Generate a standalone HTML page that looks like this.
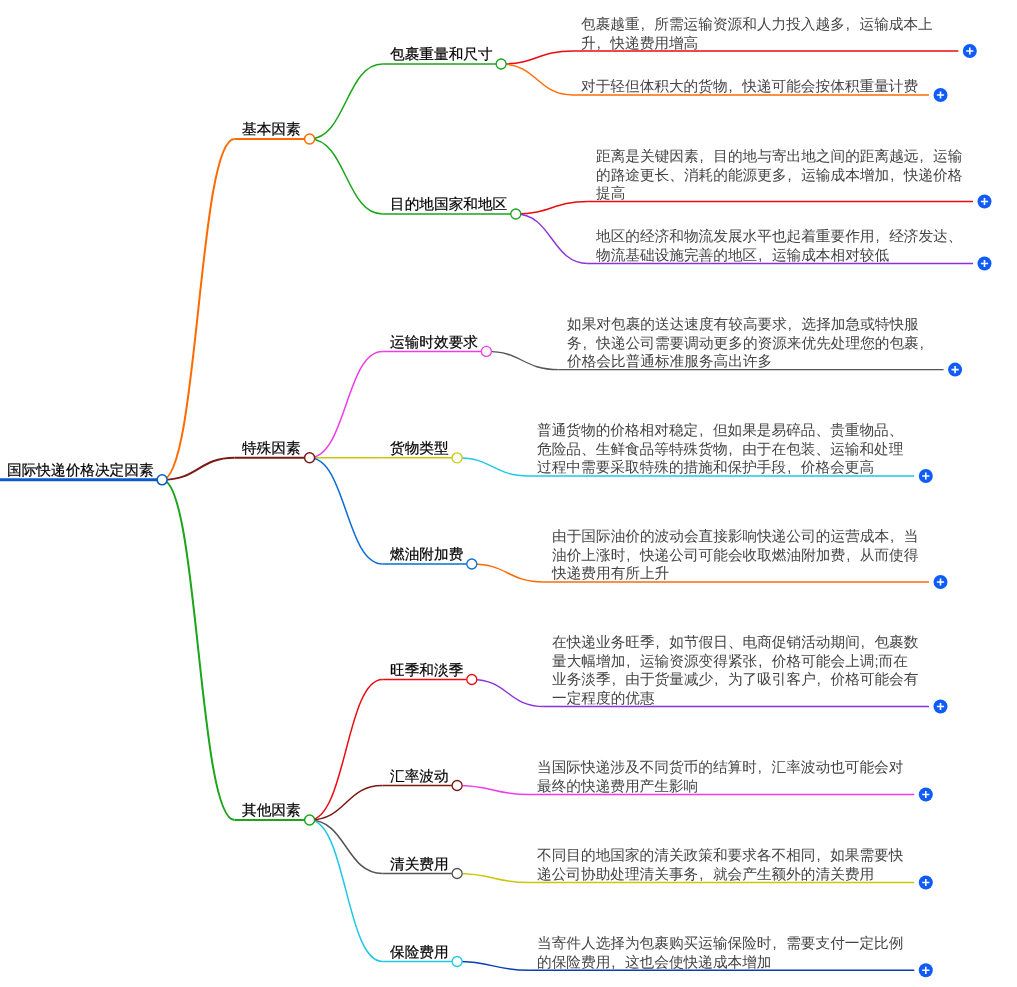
<!DOCTYPE html>
<html><head><meta charset="utf-8"><style>
html,body{margin:0;padding:0;background:#fff;width:1017px;height:987px;overflow:hidden}
body{position:relative;font-family:"Liberation Sans",sans-serif;text-rendering:geometricPrecision}
svg{position:absolute;left:0;top:0}
.lb,.ds{position:absolute;white-space:nowrap;will-change:transform;font-size:14.67px;line-height:18.5px}
.lb{color:#000;-webkit-text-stroke:0.2px #000}
.ds{color:#444}
.ds i{font-style:normal;display:inline-block;width:14.67px;text-indent:1px}
</style></head><body>
<svg width="1017" height="987" viewBox="0 0 1017 987">
<path d="M0 479.8H162.1" stroke="#0a5bc8" stroke-width="3" fill="none"/>
<path d="M162.1 479.8C198.3 479.8 198.3 139.0 234.5 139.0" stroke="#ff6a00" stroke-width="2" fill="none"/>
<path d="M234.5 139H309.6" stroke="#ff6a00" stroke-width="2" fill="none"/>
<path d="M309.6 139.0C346.0 139.0 346.0 64.0 382.5 64.0" stroke="#1aa51a" stroke-width="1.5" fill="none"/>
<path d="M382.5 64H501.1" stroke="#1aa51a" stroke-width="1.5" fill="none"/>
<path d="M501.1 64.0C537.1 64.0 537.1 51.0 573.1 51.0" stroke="#eb0a0f" stroke-width="1.4" fill="none"/>
<path d="M573.1 51H958.3" stroke="#eb0a0f" stroke-width="1.4" fill="none"/>
<g><circle cx="969.8" cy="51" r="7" fill="#105cfa"/><path d="M966.2 51H973.4M969.8 47.4V54.6" stroke="#fff" stroke-width="1.6"/></g>
<path d="M501.1 64.0C537.1 64.0 537.1 95.0 573.1 95.0" stroke="#ff6a00" stroke-width="1.4" fill="none"/>
<path d="M573.1 95H929.0" stroke="#ff6a00" stroke-width="1.4" fill="none"/>
<g><circle cx="940.5" cy="95" r="7" fill="#105cfa"/><path d="M936.9 95H944.1M940.5 91.4V98.6" stroke="#fff" stroke-width="1.6"/></g>
<path d="M309.6 139.0C346.0 139.0 346.0 214.0 382.5 214.0" stroke="#1aa51a" stroke-width="1.5" fill="none"/>
<path d="M382.5 214H515.8" stroke="#1aa51a" stroke-width="1.5" fill="none"/>
<path d="M515.8 214.0C551.8 214.0 551.8 201.5 587.8 201.5" stroke="#eb0a0f" stroke-width="1.4" fill="none"/>
<path d="M587.8 201.5H973.0" stroke="#eb0a0f" stroke-width="1.4" fill="none"/>
<g><circle cx="984.5" cy="201.5" r="7" fill="#105cfa"/><path d="M980.9 201.5H988.1M984.5 197.9V205.1" stroke="#fff" stroke-width="1.6"/></g>
<path d="M515.8 214.0C551.8 214.0 551.8 263.5 587.8 263.5" stroke="#8c32dc" stroke-width="1.4" fill="none"/>
<path d="M587.8 263.5H973.0" stroke="#8c32dc" stroke-width="1.4" fill="none"/>
<g><circle cx="984.5" cy="263.5" r="7" fill="#105cfa"/><path d="M980.9 263.5H988.1M984.5 259.9V267.1" stroke="#fff" stroke-width="1.6"/></g>
<path d="M162.1 479.8C198.3 479.8 198.3 457.8 234.5 457.8" stroke="#7a1a12" stroke-width="2" fill="none"/>
<path d="M234.5 457.8H309.6" stroke="#7a1a12" stroke-width="2" fill="none"/>
<path d="M309.6 457.8C346.0 457.8 346.0 351.4 382.5 351.4" stroke="#f03ce6" stroke-width="1.5" fill="none"/>
<path d="M382.5 351.4H486.4" stroke="#f03ce6" stroke-width="1.5" fill="none"/>
<path d="M486.4 351.4C522.4 351.4 522.4 369.6 558.4 369.6" stroke="#555555" stroke-width="1.4" fill="none"/>
<path d="M558.4 369.6H943.6" stroke="#555555" stroke-width="1.4" fill="none"/>
<g><circle cx="955.1" cy="369.6" r="7" fill="#105cfa"/><path d="M951.5 369.6H958.7M955.1 366.0V373.20000000000005" stroke="#fff" stroke-width="1.6"/></g>
<path d="M309.6 457.8C346.0 457.8 346.0 457.8 382.5 457.8" stroke="#c8c80a" stroke-width="1.5" fill="none"/>
<path d="M382.5 457.8H457.1" stroke="#c8c80a" stroke-width="1.5" fill="none"/>
<path d="M457.1 457.8C493.1 457.8 493.1 476.0 529.1 476.0" stroke="#1ec8e6" stroke-width="1.4" fill="none"/>
<path d="M529.1 476H914.3" stroke="#1ec8e6" stroke-width="1.4" fill="none"/>
<g><circle cx="925.8" cy="476" r="7" fill="#105cfa"/><path d="M922.2 476H929.4M925.8 472.4V479.6" stroke="#fff" stroke-width="1.6"/></g>
<path d="M309.6 457.8C346.0 457.8 346.0 564.0 382.5 564.0" stroke="#0a6ed6" stroke-width="1.5" fill="none"/>
<path d="M382.5 564H471.8" stroke="#0a6ed6" stroke-width="1.5" fill="none"/>
<path d="M471.8 564.0C507.8 564.0 507.8 582.0 543.8 582.0" stroke="#ff6a00" stroke-width="1.4" fill="none"/>
<path d="M543.8 582H929.0" stroke="#ff6a00" stroke-width="1.4" fill="none"/>
<g><circle cx="940.5" cy="582" r="7" fill="#105cfa"/><path d="M936.9 582H944.1M940.5 578.4V585.6" stroke="#fff" stroke-width="1.6"/></g>
<path d="M162.1 479.8C198.3 479.8 198.3 820.0 234.5 820.0" stroke="#1aa51a" stroke-width="2" fill="none"/>
<path d="M234.5 820H309.6" stroke="#1aa51a" stroke-width="2" fill="none"/>
<path d="M309.6 820.0C346.0 820.0 346.0 679.5 382.5 679.5" stroke="#eb0a0f" stroke-width="1.5" fill="none"/>
<path d="M382.5 679.5H471.8" stroke="#eb0a0f" stroke-width="1.5" fill="none"/>
<path d="M471.8 679.5C507.8 679.5 507.8 706.5 543.8 706.5" stroke="#8c32dc" stroke-width="1.4" fill="none"/>
<path d="M543.8 706.5H929.0" stroke="#8c32dc" stroke-width="1.4" fill="none"/>
<g><circle cx="940.5" cy="706.5" r="7" fill="#105cfa"/><path d="M936.9 706.5H944.1M940.5 702.9V710.1" stroke="#fff" stroke-width="1.6"/></g>
<path d="M309.6 820.0C346.0 820.0 346.0 785.5 382.5 785.5" stroke="#7a1a12" stroke-width="1.5" fill="none"/>
<path d="M382.5 785.5H457.1" stroke="#7a1a12" stroke-width="1.5" fill="none"/>
<path d="M457.1 785.5C493.1 785.5 493.1 794.5 529.1 794.5" stroke="#f03ce6" stroke-width="1.4" fill="none"/>
<path d="M529.1 794.5H914.3" stroke="#f03ce6" stroke-width="1.4" fill="none"/>
<g><circle cx="925.8" cy="794.5" r="7" fill="#105cfa"/><path d="M922.2 794.5H929.4M925.8 790.9V798.1" stroke="#fff" stroke-width="1.6"/></g>
<path d="M309.6 820.0C346.0 820.0 346.0 873.5 382.5 873.5" stroke="#555555" stroke-width="1.5" fill="none"/>
<path d="M382.5 873.5H457.1" stroke="#555555" stroke-width="1.5" fill="none"/>
<path d="M457.1 873.5C493.1 873.5 493.1 882.5 529.1 882.5" stroke="#c8c80a" stroke-width="1.4" fill="none"/>
<path d="M529.1 882.5H914.3" stroke="#c8c80a" stroke-width="1.4" fill="none"/>
<g><circle cx="925.8" cy="882.5" r="7" fill="#105cfa"/><path d="M922.2 882.5H929.4M925.8 878.9V886.1" stroke="#fff" stroke-width="1.6"/></g>
<path d="M309.6 820.0C346.0 820.0 346.0 961.5 382.5 961.5" stroke="#1ec8e6" stroke-width="1.5" fill="none"/>
<path d="M382.5 961.5H457.1" stroke="#1ec8e6" stroke-width="1.5" fill="none"/>
<path d="M457.1 961.5C493.1 961.5 493.1 970.3 529.1 970.3" stroke="#0a3cb4" stroke-width="1.4" fill="none"/>
<path d="M529.1 970.3H914.3" stroke="#0a3cb4" stroke-width="1.4" fill="none"/>
<g><circle cx="925.8" cy="970.3" r="7" fill="#105cfa"/><path d="M922.2 970.3H929.4M925.8 966.6999999999999V973.9" stroke="#fff" stroke-width="1.6"/></g>
<circle cx="162.1" cy="479.8" r="5" fill="#fff" stroke="#0a5bc8" stroke-width="1.6"/>
<circle cx="309.6" cy="139" r="5" fill="#fff" stroke="#ff6a00" stroke-width="1.5"/>
<circle cx="501.1" cy="64" r="5" fill="#fff" stroke="#1aa51a" stroke-width="1.3"/>
<circle cx="515.8" cy="214" r="5" fill="#fff" stroke="#1aa51a" stroke-width="1.3"/>
<circle cx="309.6" cy="457.8" r="5" fill="#fff" stroke="#7a1a12" stroke-width="1.5"/>
<circle cx="486.4" cy="351.4" r="5" fill="#fff" stroke="#f03ce6" stroke-width="1.3"/>
<circle cx="457.1" cy="457.8" r="5" fill="#fff" stroke="#c8c80a" stroke-width="1.3"/>
<circle cx="471.8" cy="564" r="5" fill="#fff" stroke="#0a6ed6" stroke-width="1.3"/>
<circle cx="309.6" cy="820" r="5" fill="#fff" stroke="#1aa51a" stroke-width="1.5"/>
<circle cx="471.8" cy="679.5" r="5" fill="#fff" stroke="#eb0a0f" stroke-width="1.3"/>
<circle cx="457.1" cy="785.5" r="5" fill="#fff" stroke="#7a1a12" stroke-width="1.3"/>
<circle cx="457.1" cy="873.5" r="5" fill="#fff" stroke="#555555" stroke-width="1.3"/>
<circle cx="457.1" cy="961.5" r="5" fill="#fff" stroke="#1ec8e6" stroke-width="1.3"/>
</svg>
<div class="lb" style="left:7px;top:462.0px">国际快递价格决定因素</div>
<div class="lb" style="left:242px;top:121.2px">基本因素</div>
<div class="lb" style="left:390px;top:46.2px">包裹重量和尺寸</div>
<div class="ds" style="left:581.4px;top:15.9px;width:368.7px">包裹越重<i>,</i>所需运输资源和人力投入越多<i>,</i>运输成本上<br>升<i>,</i>快递费用增高</div>
<div class="ds" style="left:581.4px;top:78.4px;width:339.4px">对于轻但体积大的货物<i>,</i>快递可能会按体积重量计费</div>
<div class="lb" style="left:390px;top:196.2px">目的地国家和地区</div>
<div class="ds" style="left:596.1px;top:147.9px;width:368.7px">距离是关键因素<i>,</i>目的地与寄出地之间的距离越远<i>,</i>运输<br>的路途更长、消耗的能源更多<i>,</i>运输成本增加<i>,</i>快递价格<br>提高</div>
<div class="ds" style="left:596.1px;top:228.4px;width:368.7px">地区的经济和物流发展水平也起着重要作用<i>,</i>经济发达、<br>物流基础设施完善的地区<i>,</i>运输成本相对较低</div>
<div class="lb" style="left:242px;top:440.0px">特殊因素</div>
<div class="lb" style="left:390px;top:333.6px">运输时效要求</div>
<div class="ds" style="left:566.7px;top:316.0px;width:368.7px">如果对包裹的送达速度有较高要求<i>,</i>选择加急或特快服<br>务<i>,</i>快递公司需要调动更多的资源来优先处理您的包裹<i>,</i><br>价格会比普通标准服务高出许多</div>
<div class="lb" style="left:390px;top:440.0px">货物类型</div>
<div class="ds" style="left:537.4px;top:422.4px;width:368.7px">普通货物的价格相对稳定<i>,</i>但如果是易碎品、贵重物品、<br>危险品、生鲜食品等特殊货物<i>,</i>由于在包装、运输和处理<br>过程中需要采取特殊的措施和保护手段<i>,</i>价格会更高</div>
<div class="lb" style="left:390px;top:546.2px">燃油附加费</div>
<div class="ds" style="left:552.0px;top:528.4px;width:368.7px">由于国际油价的波动会直接影响快递公司的运营成本<i>,</i>当<br>油价上涨时<i>,</i>快递公司可能会收取燃油附加费<i>,</i>从而使得<br>快递费用有所上升</div>
<div class="lb" style="left:242px;top:802.2px">其他因素</div>
<div class="lb" style="left:390px;top:661.7px">旺季和淡季</div>
<div class="ds" style="left:552.0px;top:634.4px;width:368.7px">在快递业务旺季<i>,</i>如节假日、电商促销活动期间<i>,</i>包裹数<br>量大幅增加<i>,</i>运输资源变得紧张<i>,</i>价格可能会上调;而在<br>业务淡季<i>,</i>由于货量减少<i>,</i>为了吸引客户<i>,</i>价格可能会有<br>一定程度的优惠</div>
<div class="lb" style="left:390px;top:767.7px">汇率波动</div>
<div class="ds" style="left:537.4px;top:759.4px;width:368.7px">当国际快递涉及不同货币的结算时<i>,</i>汇率波动也可能会对<br>最终的快递费用产生影响</div>
<div class="lb" style="left:390px;top:855.7px">清关费用</div>
<div class="ds" style="left:537.4px;top:847.4px;width:368.7px">不同目的地国家的清关政策和要求各不相同<i>,</i>如果需要快<br>递公司协助处理清关事务<i>,</i>就会产生额外的清关费用</div>
<div class="lb" style="left:390px;top:943.7px">保险费用</div>
<div class="ds" style="left:537.4px;top:935.2px;width:368.7px">当寄件人选择为包裹购买运输保险时<i>,</i>需要支付一定比例<br>的保险费用<i>,</i>这也会使快递成本增加</div>
</body></html>
